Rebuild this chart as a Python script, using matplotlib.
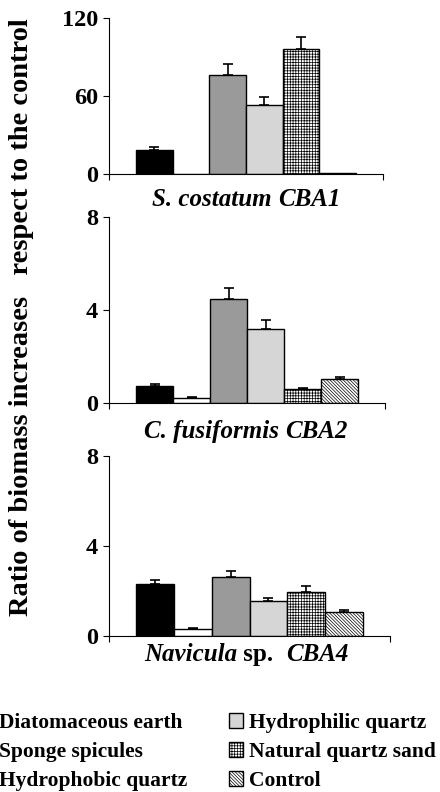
import matplotlib
matplotlib.use("Agg")
import matplotlib.pyplot as plt
from matplotlib.patches import Patch

plt.rcParams['font.family'] = ['Liberation Serif', 'DejaVu Serif']
plt.rcParams['hatch.linewidth'] = 0.5
plt.rcParams['hatch.color'] = '#444444'

treatments = ["Diatomaceous earth", "Sponge spicules", "Hydrophobic quartz",
              "Hydrophilic quartz", "Natural quartz sand", "Control"]
facecolors = ["black", "white", "#9a9a9a", "#d6d6d6", "white", "white"]
hatches = [None, None, None, None, "++++++", "\\" * 10]

scostatum = [18.7, 0.3, 75.9, 52.8, 95.9, 1.0]
scostatum_err = [2.1, 0.0, 8.7, 6.2, 9.7, 0.0]
cfusiformis = [0.75, 0.24, 4.47, 3.20, 0.61, 1.04]
cfusiformis_err = [0.09, 0.04, 0.46, 0.39, 0.06, 0.10]
navicula = [2.30, 0.33, 2.62, 1.54, 1.97, 1.07]
navicula_err = [0.20, 0.03, 0.28, 0.15, 0.25, 0.10]

panels = [
    (scostatum, scostatum_err, 120, [0, 60, 120]),
    (cfusiformis, cfusiformis_err, 8, [0, 4, 8]),
    (navicula, navicula_err, 8, [0, 4, 8]),
]

W, H = 440, 792
fig = plt.figure(figsize=(W / 100, H / 100), dpi=100)

# axes boxes in pixels: (left, top, right, bottom)
boxes = [(109, 18, 383, 174), (109, 216.7, 385, 403.3), (109, 456, 390, 636)]

x = list(range(6))
axes = []
for (vals, errs, ymax, ticks), (l, t, r, b) in zip(panels, boxes):
    ax = fig.add_axes([l / W, 1 - b / H, (r - l) / W, (b - t) / H])
    for i in range(6):
        ax.bar(x[i], vals[i], width=1.0, color=facecolors[i], edgecolor="black",
               linewidth=1.0, hatch=hatches[i], zorder=2)
        if errs[i] > 0:
            ax.errorbar(x[i], vals[i], yerr=[[0], [errs[i]]], fmt="none",
                        ecolor="black", elinewidth=1.2, capsize=3.5, capthick=1.2, zorder=3)
    ax.set_ylim(0, ymax)
    nbar = 6
    margin = 27 / ((r - l - 54) / nbar)
    ax.set_xlim(-0.5 - margin, nbar - 0.5 + margin)
    ax.set_yticks(ticks)
    ax.set_yticklabels([str(tk) for tk in ticks], fontsize=17.5, fontweight="bold")
    ax.set_xticks([-0.5 - margin, nbar - 0.5 + margin])
    ax.set_xticklabels([])
    ax.tick_params(axis="x", direction="out", length=4, width=0.8)
    ax.tick_params(axis="y", direction="out", length=4, width=0.8, pad=4)
    for s in ["top", "right"]:
        ax.spines[s].set_visible(False)
    ax.spines["left"].set_linewidth(0.8)
    ax.spines["bottom"].set_linewidth(0.8)
    axes.append(ax)

# panel titles built from pieces (style varies within a title); y = baseline px
titles = [
    ([("S. costatum", "italic"), (" ", "normal"), ("CBA1", "italic")], 206),
    ([("C. fusiformis", "italic"), (" ", "normal"), ("CBA2", "italic")], 438),
    ([("Navicula", "italic"), (" sp.  ", "normal"), ("CBA4", "italic")], 661),
]
fig.canvas.draw()
renderer = fig.canvas.get_renderer()
for pieces, yb in titles:
    texts = []
    for s, st in pieces:
        tt = fig.text(0, 1 - yb / H, s, fontsize=18, fontweight="bold", style=st,
                      va="baseline", ha="left")
        texts.append(tt)
    widths = [tt.get_window_extent(renderer).width for tt in texts]
    total = sum(widths)
    xpos = 246 - total / 2
    for tt, w in zip(texts, widths):
        tt.set_x(xpos / W)
        xpos += w

fig.text(22 / W, 1 - 317 / H, "Ratio of biomass increases   respect to the control",
         rotation=90, fontsize=20.5, fontweight="bold", ha="center", va="center")

handles = [Patch(facecolor=facecolors[i], edgecolor="black", hatch=hatches[i],
                 linewidth=1.0, label=treatments[i]) for i in range(6)]
fig.legend(handles=handles, loc="upper left", bbox_to_anchor=(-21 / W, 1 - 713 / H),
           ncol=2, frameon=False, borderpad=0, borderaxespad=0,
           prop={"size": 15.5, "weight": "bold"}, handlelength=0.65, handleheight=0.65,
           handletextpad=0.3, columnspacing=1.9, labelspacing=0.42)

fig.savefig("out.png", dpi=100)
